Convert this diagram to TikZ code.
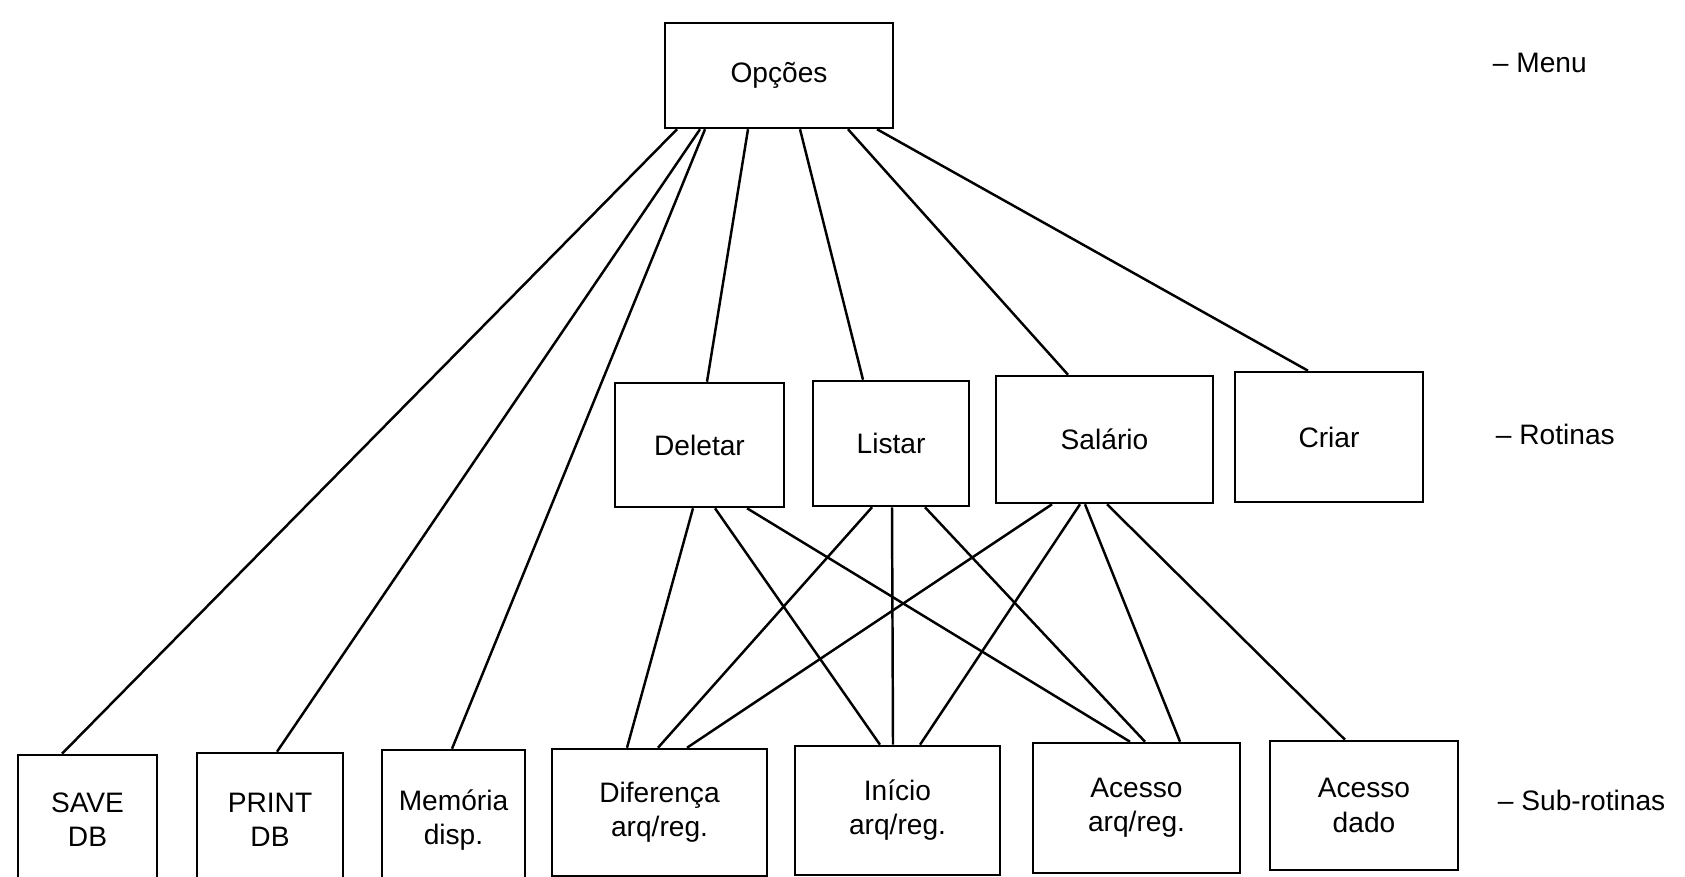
\documentclass[tikz,border=0pt]{standalone}
\usepackage{fontspec}
\setmainfont{Liberation Sans}
\usetikzlibrary{calc}

\begin{document}
\begin{tikzpicture}[x=0.01cm,y=-0.01cm,line width=0.7pt,
	box/.style={draw,rectangle,inner sep=0pt,align=center,font=\fontsize{8}{9.7}\selectfont},
	lvl/.style={anchor=west,font=\fontsize{8}{9.7}\selectfont}]
\useasboundingbox (0,0) rectangle (1685,877);
\clip (0,0) rectangle (1685,877);

%menu
\node[box,minimum width=2.28cm,minimum height=1.05cm] (opc) at (779,75.5) {Opções};

%rotinas
\node[box,minimum width=1.69cm,minimum height=1.24cm] (del) at (699.5,445) {Deletar};
\node[box,minimum width=1.56cm,minimum height=1.25cm] (lis) at (891,443.5) {Listar};
\node[box,minimum width=2.17cm,minimum height=1.27cm] (sal) at (1104.5,439.5) {Salário};
\node[box,minimum width=1.88cm,minimum height=1.30cm] (cri) at (1329,437) {Criar};

%sub-rotinas (cut off by the bottom edge)
\node[box,minimum width=1.39cm,minimum height=1.30cm] (save) at (87.5,820) {SAVE\\DB};
\node[box,minimum width=1.46cm,minimum height=1.34cm] (print) at (270,820) {PRINT\\DB};
\node[box,minimum width=1.43cm,minimum height=1.40cm] (mem) at (453.5,820) {Memória\\disp.};
\node[box,minimum width=2.15cm,minimum height=1.27cm] (dif) at (659.5,812.5) {Diferença\\arq/reg.};
\node[box,minimum width=2.05cm,minimum height=1.29cm] (ini) at (897.5,810.5) {Início\\arq/reg.};
\node[box,minimum width=2.07cm,minimum height=1.30cm] (aca) at (1136.5,808) {Acesso\\arq/reg.};
\node[box,minimum width=1.88cm,minimum height=1.29cm] (acd) at (1364,805.5) {Acesso\\dado};

%level names
\node[lvl] (lmenu) at (1480,63) {-- Menu};
\node[lvl] (lrot) at (1483,434) {-- Rotinas};
\node[lvl] (lsub) at (1485,800) {-- Sub-rotinas};

%edges from the menu
\foreach \b/\sa/\sb in {save/-102/-25.5, print/-79/7, mem/-74/-1.5, del/-31/7.5,
	lis/21/-28, sal/69/-36.5, cri/98/-21} {
	\draw ($(opc.south)+(\sa,0)$) -- ($(\b.north)+(\sb,0)$);
}

%edges from the rotinas
\foreach \a/\sa/\b/\sb in {del/-6.5/dif/-32.5, del/15.5/ini/-17.5, del/47.5/aca/-6.5,
	lis/-19/dif/-1.5, lis/1/ini/-4.5, lis/34/aca/8.5,
	sal/-52.5/dif/27.5, sal/-24.5/ini/22.5, sal/-19.5/aca/43.5, sal/2.5/acd/-19} {
	\draw ($(\a.south)+(\sa,0)$) -- ($(\b.north)+(\sb,0)$);
}
\end{tikzpicture}
\end{document}
